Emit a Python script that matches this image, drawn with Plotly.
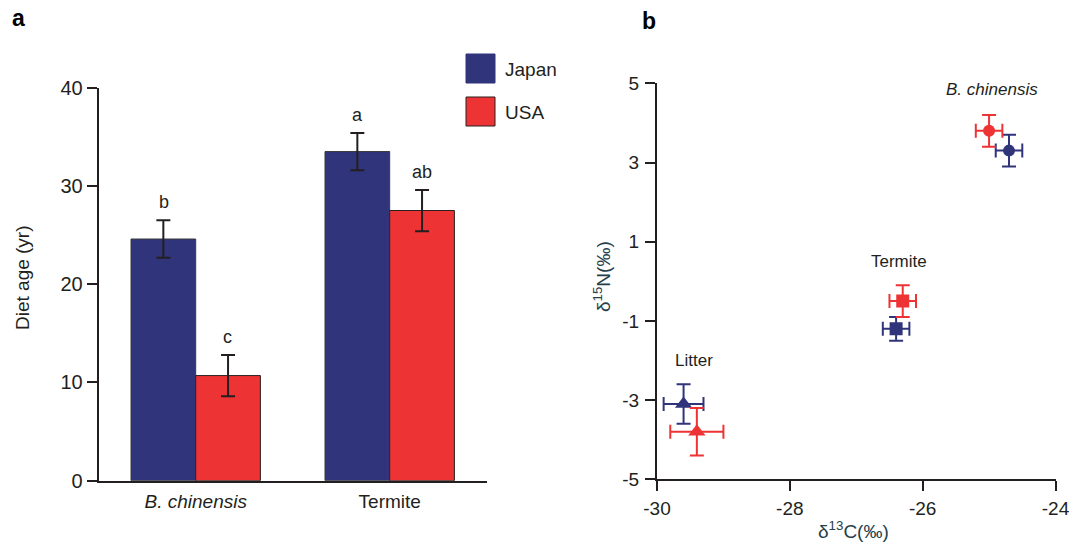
import plotly.graph_objects as go

W, H = 1083, 543
FONT = "Liberation Sans, Arial, sans-serif"
INK = "#231f20"
TEAL = "#24404a"
NAVY = "#30347a"
RED = "#ee3334"

# ---- panel a data ----
categories = ["<i>B. chinensis</i>", "Termite"]
japan_age = [24.6, 33.5]
japan_err = [1.9, 1.9]
usa_age = [10.7, 27.5]
usa_err = [2.1, 2.1]
japan_letters = ["b", "a"]
usa_letters = ["c", "ab"]
age_ticks = [0, 10, 20, 30, 40]

# ---- panel b data ----
groups = ["Litter", "Termite", "B. chinensis"]
symbols = ["triangle-up", "square", "circle"]
sizes = [15, 13, 12]
japan_c = [-29.6, -26.4, -24.7]
japan_c_err = [0.3, 0.2, 0.2]
japan_n = [-3.1, -1.2, 3.3]
japan_n_err = [0.5, 0.3, 0.4]
usa_c = [-29.4, -26.3, -25.0]
usa_c_err = [0.4, 0.2, 0.2]
usa_n = [-3.8, -0.5, 3.8]
usa_n_err = [0.6, 0.4, 0.4]
c_ticks = [-30, -28, -26, -24]
c_ticktext = ["-30", "-28", "-26", "-24"]
n_ticks = [-5, -3, -1, 1, 3, 5]
n_ticktext = ["-5", "-3", "-1", "1", "3", "5"]
group_label_pos = [(-29.45, -2.0), (-26.35, 0.5), (-24.95, 4.85)]


def px_x(p):
    return p / W


def px_y(p):
    return 1 - p / H


fig = go.Figure()

bar_err = lambda arr: dict(type="data", array=arr, visible=True, color=INK, thickness=2, width=7)
fig.add_trace(go.Bar(x=categories, y=japan_age, name="Japan", marker=dict(color=NAVY, line=dict(color="#3a3a3a", width=1)),
                     error_y=bar_err(japan_err), xaxis="x", yaxis="y", showlegend=False))
fig.add_trace(go.Bar(x=categories, y=usa_age, name="USA", marker=dict(color=RED, line=dict(color="#2a2020", width=1)),
                     error_y=bar_err(usa_err), xaxis="x", yaxis="y", showlegend=False))

sc_err = lambda arr, col: dict(type="data", array=arr, visible=True, color=col, thickness=2, width=7)
fig.add_trace(go.Scatter(x=japan_c, y=japan_n, mode="markers", name="Japan",
                         marker=dict(color=NAVY, symbol=symbols, size=sizes, opacity=1, line=dict(width=0)),
                         error_x=sc_err(japan_c_err, NAVY), error_y=sc_err(japan_n_err, NAVY),
                         xaxis="x2", yaxis="y2", showlegend=False))
fig.add_trace(go.Scatter(x=usa_c, y=usa_n, mode="markers", name="USA",
                         marker=dict(color=RED, symbol=symbols, size=sizes, opacity=1, line=dict(width=0)),
                         error_x=sc_err(usa_c_err, RED), error_y=sc_err(usa_n_err, RED),
                         xaxis="x2", yaxis="y2", showlegend=False))

axis_common = dict(showline=True, linecolor=INK, linewidth=2, ticks="outside", ticklen=10, tickwidth=2,
                   tickcolor=INK, showgrid=False, zeroline=False, automargin=False)

fig.update_layout(
    width=W, height=H, margin=dict(l=0, r=0, t=0, b=0, pad=0, autoexpand=False),
    paper_bgcolor="white", plot_bgcolor="white",
    barmode="group", bargap=0.333, bargroupgap=0,
    font=dict(family=FONT, color=INK),
    xaxis=dict(domain=[px_x(98.7), px_x(486.7)], anchor="y", showline=True, linecolor=INK, linewidth=2,
               ticks="", showgrid=False, zeroline=False, automargin=False,
               tickfont=dict(family=FONT, size=19, color=INK), ticklabelstandoff=2),
    yaxis=dict(domain=[px_y(480.7), px_y(87.7)], anchor="x", range=[0, 40], tickvals=age_ticks,
               tickfont=dict(family=FONT, size=20, color=INK), **axis_common),
    xaxis2=dict(domain=[px_x(657), px_x(1055.5)], anchor="y2", range=[-30, -24], tickvals=c_ticks,
                ticktext=c_ticktext, ticklabelstandoff=1,
                tickfont=dict(family=FONT, size=19, color=INK), **axis_common),
    yaxis2=dict(domain=[px_y(479.3), px_y(83.3)], anchor="x2", range=[-5, 5], tickvals=n_ticks,
                ticktext=n_ticktext, ticklabelstandoff=2,
                tickfont=dict(family=FONT, size=19, color=INK), **axis_common),
)

ann = []
# significance letters
for i, cat in enumerate(categories):
    ann.append(dict(x=cat, y=japan_age[i] + japan_err[i], xref="x", yref="y", text=japan_letters[i],
                    showarrow=False, xshift=-32, yshift=18, xanchor="center", yanchor="middle",
                    font=dict(family=FONT, size=18, color=INK)))
    ann.append(dict(x=cat, y=usa_age[i] + usa_err[i], xref="x", yref="y", text=usa_letters[i],
                    showarrow=False, xshift=32, yshift=18, xanchor="center", yanchor="middle",
                    font=dict(family=FONT, size=18, color=INK)))
# group labels in panel b
for g, (gx, gy) in zip(groups, group_label_pos):
    txt = "<i>%s</i>" % g if g == "B. chinensis" else g
    ann.append(dict(x=gx, y=gy, xref="x2", yref="y2", text=txt, showarrow=False,
                    xanchor="center", yanchor="middle",
                    font=dict(family=FONT, size=17, color=INK)))


def paper_text(x, y, text, size, color=INK, angle=0, xanchor="center"):
    return dict(x=px_x(x), y=px_y(y), xref="paper", yref="paper", text=text, textangle=angle,
                showarrow=False, xanchor=xanchor, yanchor="middle",
                font=dict(family=FONT, size=size, color=color))


# axis titles
ann.append(paper_text(22, 278, "Diet age (yr)", 19, angle=-90))
ann.append(paper_text(602, 277, "δ<sup>15</sup>N(‰)", 19, color=TEAL, angle=-90))
ann.append(paper_text(853, 530, "δ<sup>13</sup>C(‰)", 19, color=TEAL))
# panel labels
ann.append(paper_text(18, 18, "<b>a</b>", 23, color="black"))
ann.append(paper_text(649, 21, "<b>b</b>", 23, color="black"))
# legend labels
ann.append(paper_text(503, 69, "Japan", 19, xanchor="left"))
ann.append(paper_text(503, 112, "USA", 19, xanchor="left"))
fig.update_layout(annotations=ann)

# legend swatches
fig.update_layout(shapes=[
    dict(type="rect", xref="paper", yref="paper", x0=px_x(466), x1=px_x(495), y0=px_y(83), y1=px_y(54),
         fillcolor=NAVY, line=dict(color=NAVY, width=1)),
    dict(type="rect", xref="paper", yref="paper", x0=px_x(466), x1=px_x(495), y0=px_y(126), y1=px_y(97),
         fillcolor=RED, line=dict(color="#2a2020", width=1)),
])

fig.write_html("out.html")
